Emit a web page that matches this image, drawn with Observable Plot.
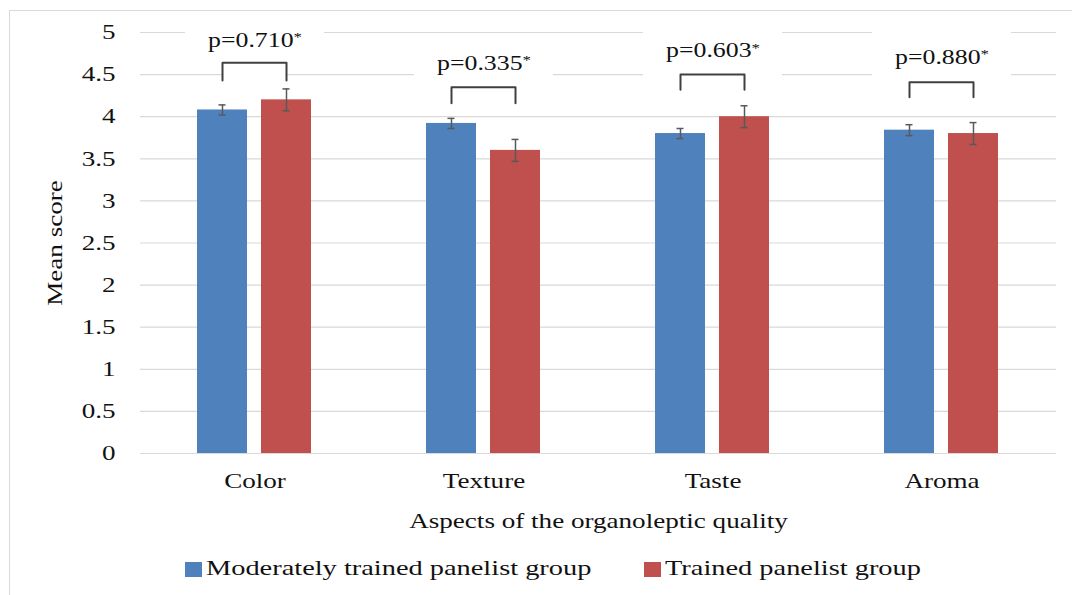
<!DOCTYPE html>
<html>
<head>
<meta charset="utf-8">
<script src="https://cdn.jsdelivr.net/npm/d3@7"></script>
<script src="https://cdn.jsdelivr.net/npm/@observablehq/plot@0.6"></script>
<style>
html, body { margin: 0; padding: 0; background: #fff; overflow: hidden; }
#wrap { position: relative; width: 1072px; height: 595px; }
#border { position: absolute; left: 9px; top: 10px; width: 1100px; height: 640px; border: 1px solid #d9d9d9; pointer-events: none; }
#chart { position: absolute; left: 0; top: 0; }
.sw { position: absolute; top: 562px; width: 17px; height: 15px; }
.leg { position: absolute; top: 556px; font-family: "Liberation Serif", serif; font-size: 22px; line-height: 24px; color: #111; white-space: nowrap; }
.leg span { display: inline-block; transform: scaleX(1.29); transform-origin: left center; }
</style>
</head>
<body>
<div id="wrap">
  <div id="chart"></div>
  <div id="legend"></div>
  <div id="border"></div>
</div>
<script>
// ---- data ----
const categories = ["Color", "Texture", "Taste", "Aroma"];
const groups = ["Moderately trained panelist group", "Trained panelist group"];
const groupColors = ["#4f81bd", "#c0504d"];
const moderate = [4.08, 3.92, 3.80, 3.84];
const trained = [4.20, 3.60, 4.00, 3.80];
const moderateErr = [0.06, 0.06, 0.06, 0.065];
const trainedErr = [0.13, 0.13, 0.13, 0.13];
const pValues = ["0.710", "0.335", "0.603", "0.880"];
const labelY = [4.90, 4.63, 4.78, 4.70];
const bracketTop = [4.64, 4.35, 4.50, 4.41];
const bracketLeg = [4.43, 4.16, 4.32, 4.23];
const yTicks = [0, 0.5, 1, 1.5, 2, 2.5, 3, 3.5, 4, 4.5, 5];

// ---- tables built from the arrays ----
const rows = categories.flatMap((c, i) => [
  {cat: c, group: groups[0], value: moderate[i], err: moderateErr[i]},
  {cat: c, group: groups[1], value: trained[i], err: trainedErr[i]}
]);
const labels = categories.map((c, i) => ({cat: c, text: `p=${pValues[i]}*`, y: labelY[i]}));
const bracketPts = categories.flatMap((c, i) => [
  {cat: c, group: groups[0], y: bracketLeg[i]},
  {cat: c, group: groups[0], y: bracketTop[i]},
  {cat: c, group: groups[1], y: bracketTop[i]},
  {cat: c, group: groups[1], y: bracketLeg[i]}
]);
const bracketFill = categories.flatMap((c, i) => [
  {cat: c, group: groups[0], y1: bracketLeg[i], y2: bracketTop[i]},
  {cat: c, group: groups[1], y1: bracketLeg[i], y2: bracketTop[i]}
]);

const errStroke = "#595959";
const plot = Plot.plot({
  width: 1072,
  height: 540,
  marginLeft: 138,
  marginRight: 15,
  marginTop: 32,
  marginBottom: 87,
  style: {fontFamily: "'Liberation Serif', serif", fontSize: "21px", color: "#111", background: "transparent", overflow: "visible"},
  fx: {domain: categories, padding: 0, axis: "bottom", tickSize: 0, tickPadding: 20,
       label: "Aspects of the organoleptic quality", labelAnchor: "center", labelOffset: 74},
  x: {domain: groups, axis: null, paddingInner: 0.2154, paddingOuter: 0.875},
  y: {domain: [0, 5], ticks: yTicks, tickSize: 0, tickPadding: 25, tickFormat: d => String(d),
      label: "Mean score", labelAnchor: "center", labelOffset: 93, labelArrow: false},
  color: {domain: groups, range: groupColors},
  marks: [
    Plot.ruleY(yTicks, {stroke: "#d9d9d9", strokeWidth: 1.2}),
    Plot.rect(labels, {fx: "cat", y1: d => d.y - 0.32, y2: d => d.y + 0.32, fill: "white", insetLeft: 45, insetRight: 45}),
    Plot.barY(rows, {fx: "cat", x: "group", y: "value", fill: "group"}),
    Plot.ruleX(rows, {fx: "cat", x: "group", y1: d => d.value - d.err, y2: d => d.value + d.err, stroke: errStroke, strokeWidth: 1.5}),
    Plot.tickY(rows, {fx: "cat", x: "group", y: d => d.value - d.err, stroke: errStroke, strokeWidth: 1.5, insetLeft: 21.5, insetRight: 21.5}),
    Plot.tickY(rows, {fx: "cat", x: "group", y: d => d.value + d.err, stroke: errStroke, strokeWidth: 1.5, insetLeft: 21.5, insetRight: 21.5}),
    Plot.areaY(bracketFill, {fx: "cat", x: "group", y1: "y1", y2: "y2", z: "cat", fill: "white"}),
    Plot.lineY(bracketPts, {fx: "cat", x: "group", y: "y", z: "cat", stroke: "#404040", strokeWidth: 2}),
    Plot.text(labels, {fx: "cat", y: "y", text: "text", fontSize: 20, fill: "#111"})
  ]
});

document.getElementById("chart").appendChild(plot);

// superscript asterisk on the p-value labels
const svgns = "http://www.w3.org/2000/svg";
plot.querySelectorAll("text").forEach(t => {
  const s = t.textContent;
  if (/^p=.*\*$/.test(s) && t.children.length === 0) {
    t.textContent = s.slice(0, -1);
    const ts = document.createElementNS(svgns, "tspan");
    ts.setAttribute("dy", "-0.45em");
    ts.setAttribute("font-size", "13");
    ts.textContent = "*";
    t.appendChild(ts);
  }
});

// widen glyphs horizontally to match the reference's stretched type
const K = 1.29;
plot.querySelectorAll("text").forEach(t => {
  const len = t.getComputedTextLength();
  if (len > 0) {
    t.setAttribute("textLength", (len * K).toFixed(2));
    t.setAttribute("lengthAdjust", "spacingAndGlyphs");
  }
});

// legend
const legend = document.getElementById("legend");
const legendLeft = [185, 644];
groups.forEach((g, i) => {
  const sw = document.createElement("div");
  sw.className = "sw";
  sw.style.left = legendLeft[i] + "px";
  sw.style.background = groupColors[i];
  legend.appendChild(sw);
  const lab = document.createElement("div");
  lab.className = "leg";
  lab.style.left = (legendLeft[i] + 21) + "px";
  const sp = document.createElement("span");
  sp.textContent = g;
  lab.appendChild(sp);
  legend.appendChild(lab);
});
</script>
</body>
</html>
